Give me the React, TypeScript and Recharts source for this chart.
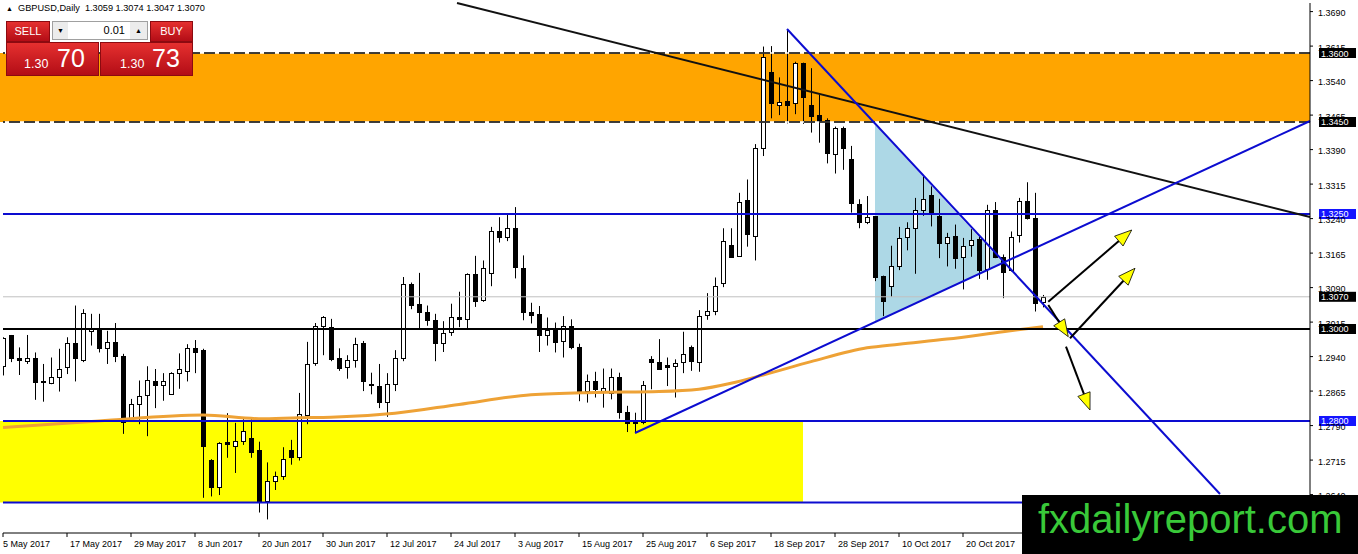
import { ComposedChart, Bar, Line, XAxis, YAxis, ReferenceLine, ReferenceArea } from 'recharts'

// GBPUSD daily bars, 5 May 2017 .. 3 Nov 2017
const OPEN = [
  1.2920,1.2986,1.2938,1.2930,1.2936,1.2888,1.2882,1.2895,1.2917,1.2970,
  1.2933,1.2995,1.3000,1.2958,1.2972,1.2942,1.2804,1.2838,1.2857,1.2886,
  1.2879,1.2859,1.2904,1.2909,1.2958,1.2954,1.2715,1.2657,1.2754,1.2746,
  1.2756,1.2763,1.2737,1.2627,1.2670,1.2680,1.2737,1.2721,1.2812,1.2925,
  1.3006,1.3004,1.2938,1.2918,1.2932,1.2969,1.2881,1.2876,1.2842,1.2881,
  1.2936,1.3097,1.3054,1.3038,1.3020,1.2970,1.2994,1.3027,1.3022,1.3120,
  1.3063,1.3122,1.3212,1.3201,1.3220,1.3133,1.3038,1.3032,1.2987,1.3003,
  1.2974,1.3007,1.2961,1.2865,1.2887,1.2865,1.2860,1.2896,1.2820,1.2800,
  1.2798,1.2934,1.2929,1.2922,1.2920,1.2929,1.2961,1.2929,1.3030,1.3039,
  1.3099,1.3183,1.3159,1.3280,1.3203,1.3393,1.3559,1.3488,1.3496,1.3491,
  1.3578,1.3487,1.3465,1.3454,1.3380,1.3438,1.3369,1.3271,1.3232,1.3245,
  1.3116,1.3093,1.3136,1.3200,1.3220,1.3258,1.3292,1.3246,1.3186,1.3203,
  1.3157,1.3183,1.3196,1.3130,1.3258,1.3157,1.3129,1.3205,1.3278,1.3241,
  1.3059,
]
const HIGH = [
  1.2982,1.2987,1.2960,1.2987,1.2949,1.2924,1.2938,1.2957,1.2982,1.3051,
  1.3043,1.3033,1.3033,1.2996,1.3013,1.2946,1.2848,1.2888,1.2919,1.2913,
  1.2904,1.2906,1.2947,1.2967,1.2976,1.2957,1.2717,1.2754,1.2817,1.2796,
  1.2804,1.2807,1.2755,1.2710,1.2690,1.2743,1.2759,1.2861,1.2972,1.3013,
  1.3028,1.3022,1.2958,1.2943,1.2981,1.2974,1.2905,1.2924,1.2904,1.2954,
  1.3113,1.3101,1.3122,1.3051,1.3033,1.3017,1.3055,1.3081,1.3121,1.3159,
  1.3149,1.3222,1.3243,1.3249,1.3265,1.3160,1.3057,1.3050,1.3025,1.3014,
  1.3028,1.3021,1.2968,1.2901,1.2907,1.2914,1.2914,1.2905,1.2833,1.2818,
  1.2887,1.2941,1.2978,1.2938,1.2934,1.2994,1.2964,1.3041,1.3078,1.3112,
  1.3219,1.3219,1.3296,1.3325,1.3402,1.3614,1.3615,1.3547,1.3651,1.3581,
  1.3579,1.3567,1.3509,1.3458,1.3440,1.3440,1.3398,1.3282,1.3289,1.3245,
  1.3116,1.3181,1.3222,1.3232,1.3285,1.3332,1.3310,1.3283,1.3209,1.3227,
  1.3198,1.3217,1.3201,1.3270,1.3276,1.3162,1.3212,1.3285,1.3319,1.3296,
  1.3074,
]
const LOW = [
  1.2899,1.2928,1.2900,1.2924,1.2846,1.2842,1.2880,1.2864,1.2902,1.2886,
  1.2928,1.2964,1.2949,1.2924,1.2928,1.2772,1.2801,1.2793,1.2767,1.2828,
  1.2844,1.2857,1.2870,1.2886,1.2904,1.2633,1.2636,1.2639,1.2720,1.2687,
  1.2748,1.2720,1.2601,1.2586,1.2650,1.2672,1.2705,1.2714,1.2793,1.2920,
  1.2943,1.2930,1.2909,1.2892,1.2916,1.2865,1.2858,1.2828,1.2809,1.2865,
  1.2930,1.3043,1.3001,1.3007,1.2930,1.2950,1.2985,1.3004,1.2999,1.3048,
  1.3059,1.3093,1.3188,1.3191,1.3110,1.3019,1.3012,1.2950,1.2964,1.2949,
  1.2938,1.2956,1.2843,1.2840,1.2851,1.2829,1.2847,1.2805,1.2776,1.2775,
  1.2793,1.2869,1.2911,1.2876,1.2851,1.2904,1.2909,1.2907,1.3020,1.3030,
  1.3091,1.3157,1.3157,1.3179,1.3149,1.3376,1.3458,1.3465,1.3447,1.3467,
  1.3446,1.3427,1.3405,1.3360,1.3338,1.3346,1.3253,1.3219,1.3228,1.3104,
  1.3028,1.3070,1.3128,1.3171,1.3120,1.3246,1.3223,1.3154,1.3136,1.3131,
  1.3086,1.3157,1.3109,1.3107,1.3154,1.3067,1.3125,1.3188,1.3238,1.3038,
  1.3047,
]
const CLOSE = [
  1.2980,1.2937,1.2933,1.2936,1.2884,1.2884,1.2895,1.2914,1.2969,1.2938,
  1.3035,1.3000,1.2959,1.2972,1.2941,1.2797,1.2838,1.2855,1.2890,1.2879,
  1.2886,1.2904,1.2913,1.2958,1.2951,1.2745,1.2657,1.2752,1.2749,1.2756,
  1.2779,1.2733,1.2625,1.2669,1.2680,1.2717,1.2721,1.2815,1.2923,1.3006,
  1.3025,1.2934,1.2916,1.2932,1.2968,1.2887,1.2878,1.2842,1.2880,1.2936,
  1.3097,1.3052,1.3037,1.3020,1.2970,1.2992,1.3025,1.3022,1.3119,1.3061,
  1.3133,1.3212,1.3201,1.3220,1.3135,1.3038,1.3030,1.2987,1.2997,1.2972,
  1.3007,1.2961,1.2865,1.2887,1.2869,1.2872,1.2896,1.2820,1.2796,1.2796,
  1.2878,1.2928,1.2914,1.2918,1.2927,1.2946,1.2930,1.3028,1.3039,1.3094,
  1.3191,1.3157,1.3277,1.3206,1.3393,1.3591,1.3491,1.3494,1.3488,1.3578,
  1.3505,1.3462,1.3453,1.3382,1.3436,1.3393,1.3273,1.3233,1.3243,1.3114,
  1.3060,1.3136,1.3198,1.3220,1.3258,1.3283,1.3250,1.3187,1.3200,1.3154,
  1.3180,1.3193,1.3128,1.3258,1.3157,1.3123,1.3201,1.3278,1.3241,1.3057,
  1.3070,
]

const DATES = ['5 May 2017','17 May 2017','29 May 2017','8 Jun 2017','20 Jun 2017','30 Jun 2017','12 Jul 2017','24 Jul 2017',
  '3 Aug 2017','15 Aug 2017','25 Aug 2017','6 Sep 2017','18 Sep 2017','28 Sep 2017','10 Oct 2017','20 Oct 2017']
const DATE_STEP = 8 // MT4 puts a date every 8 bars here
const PRICE_TICKS = [1.3690,1.3615,1.3540,1.3465,1.3390,1.3315,1.3240,1.3165,1.3090,1.3015,1.2940,1.2865,1.2790,1.2715,1.2640]

// 200 day MA (bar index / value)
const MA_IDX = [0,12,25,32,37,41,49,57,66,74,82,87,91,95,101,108,112,118,125,130]
const MA_VAL = [1.2786,1.2800,1.2813,1.2805,1.2807,1.2808,1.2817,1.2836,1.2857,1.2862,1.2864,1.2869,1.2882,1.2900,1.2929,1.2959,1.2967,1.2978,1.2994,1.3005]

// drawn objects: levels, zones, trendlines (bar index, price)
const RESIST_ZONE = [1.3450, 1.3600]
const SUPPORT_ZONE = [1.2623, 1.2800]
const SUPPORT_END = 100
const BLUE_LEVELS = [1.3250, 1.2800, 1.2623]
const ROUND_LEVEL = 1.3000
const LAST_PRICE = 1.3070
const TREND_BLACK = [[56.75, 1.37087], [163.375, 1.32435]]
const TREND_DOWN = [[98, 1.36522], [152.125, 1.26413]]
const TREND_UP = [[79, 1.27739], [163.375, 1.34522]]
const TRI_X = [109, 125]
const TRI_P = [1.34435, 1.30152, 1.31435] // top, bottom, apex
const ARROWS = [
  [[130.66, 1.30593], [141.09, 1.32152]],
  [[133.375, 1.29798], [141.5, 1.3132]],
  [[130.66, 1.30522], [133.16, 1.29833]],
  [[132.875, 1.29615], [135.875, 1.28239]],
]

const X_DOMAIN = [0, 163.375]
const Y_DOMAIN = [1.25565, 1.37087]

const bars = OPEN.map((o, i) => ({ i, o, h: HIGH[i], l: LOW[i], c: CLOSE[i], range: [LOW[i], HIGH[i]] }))
const ma = MA_IDX.map((i, k) => ({ i, v: MA_VAL[k] }))
const last = bars[bars.length - 1]

const FONT = '"Liberation Sans", Arial, sans-serif'
const BLUE = '#0c0cd0'

function Candle(p: any) {
  const { x, y, width, height, payload } = p
  if (x == null || !payload) return null
  const cx = Math.round(x + width / 2)
  const { o, h, l, c } = payload
  const span = h - l || 1e-6
  const at = (v: number) => y + ((h - v) / span) * height
  const top = Math.round(at(Math.max(o, c))) + 0.5
  const bot = Math.round(at(Math.min(o, c))) + 0.5
  return (
    <g>
      <line x1={cx + 0.5} x2={cx + 0.5} y1={y} y2={y + height} stroke="#000" />
      <rect x={cx - 1.5} y={top} width={4} height={Math.max(bot - top, 1)} fill={c >= o ? '#fff' : '#000'} stroke="#000" />
    </g>
  )
}

function Triangle(p: any) {
  const { x, y, width, height } = p
  const f = (TRI_P[0] - TRI_P[2]) / (TRI_P[0] - TRI_P[1])
  return <polygon points={`${x},${y} ${x},${y + height} ${x + width},${y + f * height}`} fill="#add8e6" />
}

function Arrow(p: any) {
  const { x1, y1, x2, y2 } = p
  const a = Math.atan2(y2 - y1, x2 - x1)
  const bx = x2 - 17 * Math.cos(a), by = y2 - 17 * Math.sin(a)
  const nx = -Math.sin(a) * 6.5, ny = Math.cos(a) * 6.5
  return (
    <g>
      <line x1={x1} y1={y1} x2={bx} y2={by} stroke="#000" strokeWidth={2} />
      <polygon points={`${x2},${y2} ${bx + nx},${by + ny} ${bx - nx},${by - ny}`} fill="#ffff00" stroke="#000" strokeWidth={0.8} />
    </g>
  )
}

const tag = (v: number, bg: string) => (p: any) => {
  const vb = p.viewBox ?? {}
  const x = (vb.x ?? 0) + (vb.width ?? 0) + 9
  const y = vb.y ?? 0
  return (
    <g>
      <rect x={x} y={y - 5} width={37} height={10} fill={bg} />
      <text x={x + 2} y={y + 3.5} fontSize={9} fontFamily={FONT} fill="#fff">{v.toFixed(4)}</text>
    </g>
  )
}

function DateTick({ x, y, payload }: any) {
  const k = Math.round(payload.value / DATE_STEP)
  return <text x={k === 0 ? x : x + 3} y={y + 8} fontSize={9} fontFamily={FONT} fill="#000">{DATES[k]}</text>
}

function PriceTick({ x, y, payload }: any) {
  return <text x={x + 3} y={y + 4.5} fontSize={9} fontFamily={FONT} fill="#000">{Number(payload.value).toFixed(4)}</text>
}

const seg = (s: number[][]) => s.map(([x, y]) => ({ x, y }))

const red = 'linear-gradient(#e5302f, #b30d16)'
const box = { position: 'absolute' as const, background: red, color: '#fff', fontFamily: FONT, boxSizing: 'border-box' as const, border: '1px solid #8c0a10' }

export default function App() {
  return (
    <div style={{ position: 'relative', width: 1358, height: 554, background: '#fff', overflow: 'hidden' }}>
      <style>{'body{margin:0}'}</style>
      <ComposedChart width={1358} height={554} data={bars} margin={{ top: 3, right: 0, left: 3, bottom: 0 }}>
        <XAxis dataKey="i" type="number" domain={X_DOMAIN} allowDataOverflow ticks={DATES.map((_, k) => k * DATE_STEP)}
          interval={0} height={21} tickSize={4} tick={<DateTick />} axisLine={{ stroke: '#000' }} tickLine={{ stroke: '#000' }} />
        <YAxis orientation="right" type="number" domain={Y_DOMAIN} allowDataOverflow ticks={PRICE_TICKS} interval={0}
          width={48} tickSize={3} tick={<PriceTick />} axisLine={{ stroke: '#000' }} tickLine={{ stroke: '#000' }} />

        <ReferenceArea x1={-0.375} x2={X_DOMAIN[1]} y1={RESIST_ZONE[0]} y2={RESIST_ZONE[1]} fill="#ffa500" fillOpacity={1} ifOverflow="visible" />
        <ReferenceArea x1={-0.375} x2={SUPPORT_END} y1={SUPPORT_ZONE[0]} y2={SUPPORT_ZONE[1]} fill="#ffff00" fillOpacity={1} ifOverflow="visible" />
        <ReferenceArea x1={TRI_X[0]} x2={TRI_X[1]} y1={TRI_P[1]} y2={TRI_P[0]} shape={<Triangle />} ifOverflow="visible" />
        <ReferenceLine y={LAST_PRICE} stroke="#c0c0c0" label={tag(LAST_PRICE, '#000')} />

        <Bar dataKey="range" barSize={6} shape={(p: any) => <Candle {...p} />} isAnimationActive={false} />
        <Line data={ma} dataKey="v" type="monotone" stroke="#eea236" strokeWidth={3} dot={false} activeDot={false} isAnimationActive={false} />

        {RESIST_ZONE.map(v => (
          <ReferenceLine key={'w' + v} y={v} stroke="#fff" strokeWidth={1.5} />
        ))}
        {RESIST_ZONE.map(v => (
          <ReferenceLine key={'d' + v} y={v} stroke="#000" strokeWidth={1.5} strokeDasharray="11 4" label={tag(v, '#000')} />
        ))}
        {BLUE_LEVELS.map((v, k) => (
          <ReferenceLine key={'b' + v} y={v} stroke={BLUE} strokeWidth={2} label={k < 2 ? tag(v, '#1414ff') : undefined} />
        ))}
        <ReferenceLine y={ROUND_LEVEL} stroke="#000" strokeWidth={2} label={tag(ROUND_LEVEL, '#000')} />

        <ReferenceLine segment={seg(TREND_BLACK)} stroke="#111" strokeWidth={2} ifOverflow="visible" />
        <ReferenceLine segment={seg(TREND_DOWN)} stroke={BLUE} strokeWidth={2} ifOverflow="visible" />
        <ReferenceLine segment={seg(TREND_UP)} stroke={BLUE} strokeWidth={2} ifOverflow="visible" />
        {ARROWS.map((a, k) => (
          <ReferenceLine key={'a' + k} segment={seg(a)} shape={(p: any) => <Arrow {...p} />} ifOverflow="visible" />
        ))}
      </ComposedChart>

      <div style={{ position: 'absolute', left: 6, top: 3, fontSize: 9.2, fontFamily: FONT, color: '#000', whiteSpace: 'pre' }}>
        <span style={{ fontSize: 7 }}>▲</span>{`  GBPUSD,Daily  ${last.o.toFixed(4)} ${last.h.toFixed(4)} ${last.l.toFixed(4)} ${last.c.toFixed(4)}`}
      </div>

      <div style={{ ...box, left: 6, top: 21, width: 44, height: 21, fontSize: 11, lineHeight: '19px', textAlign: 'center' }}>SELL</div>
      <div style={{ position: 'absolute', left: 52, top: 21, width: 96, height: 19, background: '#fff', border: '1px solid #a0a0a0', boxSizing: 'border-box', fontFamily: FONT }}>
        <div style={{ position: 'absolute', left: 0, top: 0, width: 15, height: 17, background: '#ececec', fontSize: 7, textAlign: 'center', lineHeight: '17px' }}>▼</div>
        <div style={{ position: 'absolute', right: 22, top: 0, fontSize: 11, lineHeight: '17px' }}>0.01</div>
        <div style={{ position: 'absolute', right: 0, top: 0, width: 17, height: 17, background: '#ececec', fontSize: 7, textAlign: 'center', lineHeight: '17px' }}>▲</div>
      </div>
      <div style={{ ...box, left: 150, top: 21, width: 43, height: 21, fontSize: 11, lineHeight: '19px', textAlign: 'center' }}>BUY</div>
      <div style={{ ...box, left: 6, top: 42, width: 93, height: 34, whiteSpace: 'nowrap' }}>
        <span style={{ position: 'absolute', left: 17, top: 14, fontSize: 12.5 }}>1.30</span>
        <span style={{ position: 'absolute', left: 50, top: 1, fontSize: 25 }}>70</span>
      </div>
      <div style={{ ...box, left: 100, top: 42, width: 93, height: 34, whiteSpace: 'nowrap' }}>
        <span style={{ position: 'absolute', left: 19, top: 14, fontSize: 12.5 }}>1.30</span>
        <span style={{ position: 'absolute', left: 51, top: 1, fontSize: 25 }}>73</span>
      </div>

      <div style={{ position: 'absolute', left: 1022, top: 495, width: 336, height: 59, background: '#000', color: '#39c939',
        fontFamily: FONT, fontSize: 40, lineHeight: '46px', paddingLeft: 16, paddingTop: 1, boxSizing: 'border-box' }}>
        fxdailyreport.com
      </div>
    </div>
  )
}
